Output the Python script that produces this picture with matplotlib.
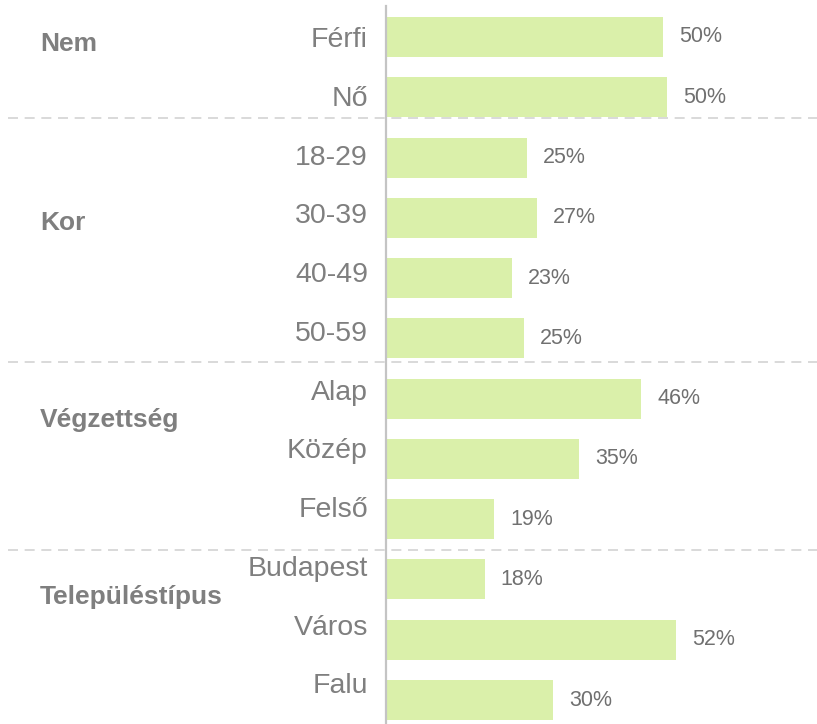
import matplotlib.pyplot as plt
import numpy as np

# data
categories = ['Férfi', 'Nő', '18-29', '30-39', '40-49', '50-59',
              'Alap', 'Közép', 'Felső', 'Budapest', 'Város', 'Falu']
values = [49.6, 50.3, 25.2, 27.0, 22.6, 24.7, 45.7, 34.6, 19.4, 17.7, 52.0, 29.9]
value_labels = ['50%', '50%', '25%', '27%', '23%', '25%',
                '46%', '35%', '19%', '18%', '52%', '30%']
groups = ['Nem', 'Kor', 'Végzettség', 'Településtípus']
group_label_y = [0.12, 3.08, 6.35, 9.29]
separator_y = [1.34, 5.39, 8.51]

plt.rcParams['font.family'] = ['Liberation Sans', 'DejaVu Sans']

fig = plt.figure(figsize=(8.17, 7.24), dpi=100)
ax = fig.add_axes([386 / 817, 0, 431 / 817, 718 / 724])

y = np.arange(len(categories))
bars = ax.barh(y, values, height=0.663, color='#daf0aa', zorder=2)

# value labels
ax.bar_label(bars, labels=value_labels, padding=11.5, fontsize=15.5, color='#707070')

ax.set_xlim(0, 77.2)
ax.set_ylim(11.398, -0.514)

# category labels (slightly tighter spacing than the bars, as in the original)
ax.set_yticks(y * 0.975)
ax.set_yticklabels(categories, fontsize=20.5, color='#7f7f7f')
ax.tick_params(axis='y', length=0, pad=13)
ax.set_xticks([])

for side in ['top', 'right', 'bottom']:
    ax.spines[side].set_visible(False)
ax.spines['left'].set_color('#c4c4c4')
ax.spines['left'].set_linewidth(1.6)

# group separators
for sy in separator_y:
    ax.plot([-0.877, 1.0], [sy, sy], transform=ax.get_yaxis_transform(),
            color='#d3d3d3', linestyle=(0, (6, 4)), linewidth=1.2, clip_on=False, zorder=1)

# group labels
for g, gy in zip(groups, group_label_y):
    ax.text(-0.803, gy, g, transform=ax.get_yaxis_transform(), ha='left', va='center',
            fontsize=19, fontweight='bold', color='#7f7f7f')

fig.savefig('out.png', dpi=100)
